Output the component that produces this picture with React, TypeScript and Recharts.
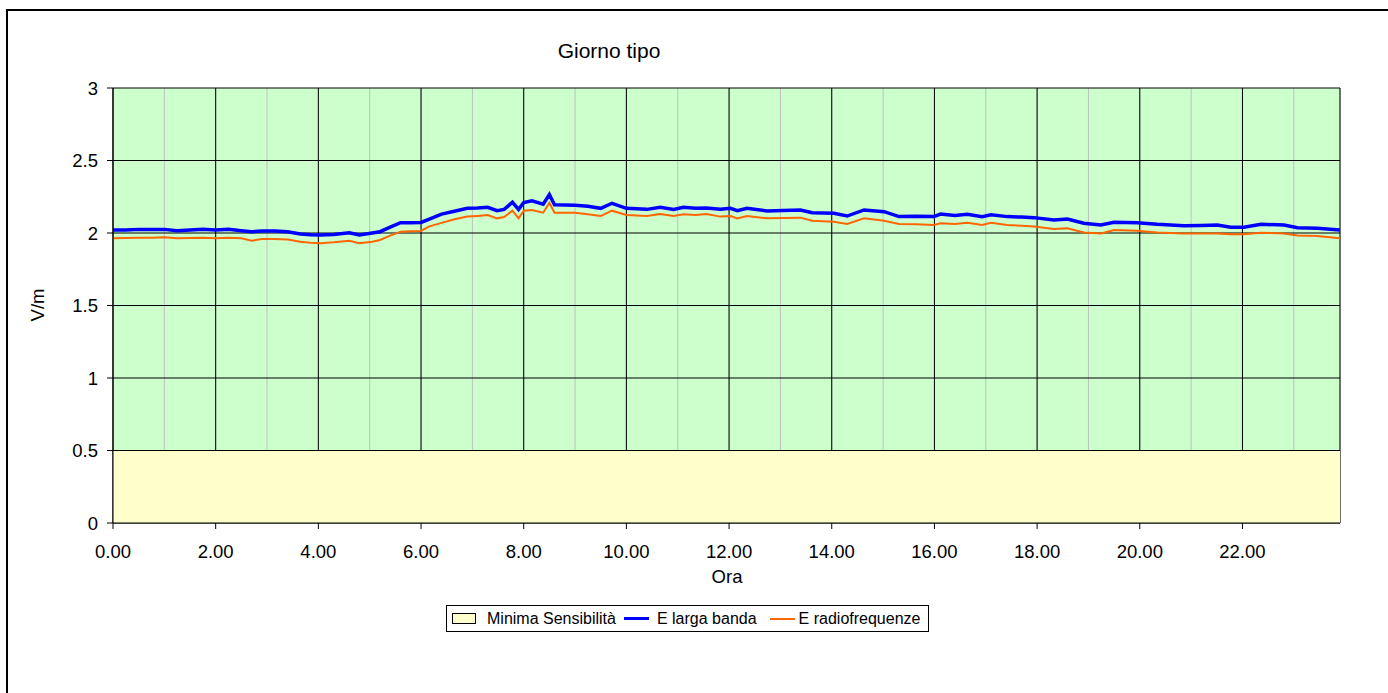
import React from 'react';
import { ComposedChart, Line, Area, XAxis, YAxis, CartesianGrid, Legend } from 'recharts';

const ore = [
  0.0, 0.25, 0.5, 0.75, 1.0, 1.25, 1.5, 1.75, 2.0, 2.25, 2.5, 2.7, 2.9, 3.15, 3.4, 3.65, 3.85, 4.05, 4.3, 4.6,
  4.8, 5.05, 5.2, 5.4, 5.6, 5.8, 6.0, 6.15, 6.4, 6.65, 6.9, 7.1, 7.3, 7.48, 7.62, 7.78, 7.9, 8.0, 8.16, 8.38,
  8.5, 8.6, 9.0, 9.25, 9.5, 9.72, 10.0, 10.4, 10.66, 10.92, 11.11, 11.35, 11.56, 11.83, 12.03, 12.16, 12.35, 12.74, 13.05, 13.39,
  13.62, 14.04, 14.3, 14.63, 15.02, 15.31, 15.65, 15.99, 16.12, 16.4, 16.64, 16.93, 17.1, 17.42, 17.7, 17.94, 18.33, 18.59, 18.91, 19.24,
  19.5, 19.95, 20.34, 20.86, 21.2, 21.51, 21.77, 22.03, 22.36, 22.81, 23.07, 23.46, 23.9,
];

const eLargaBanda = [
  2.02, 2.02, 2.025, 2.025, 2.025, 2.016, 2.02, 2.025, 2.02, 2.025, 2.016, 2.009, 2.014, 2.014, 2.009, 1.993, 1.988, 1.986, 1.99, 2.002,
  1.986, 2.0, 2.009, 2.04, 2.071, 2.071, 2.073, 2.094, 2.13, 2.15, 2.17, 2.172, 2.177, 2.154, 2.163, 2.212, 2.163, 2.21, 2.222, 2.198,
  2.265, 2.195, 2.191, 2.185, 2.17, 2.205, 2.17, 2.163, 2.177, 2.163, 2.177, 2.17, 2.172, 2.163, 2.17, 2.154, 2.17, 2.152, 2.156, 2.159,
  2.14, 2.136, 2.117, 2.159, 2.147, 2.113, 2.115, 2.113, 2.131, 2.12, 2.129, 2.113, 2.126, 2.113, 2.11, 2.106, 2.09, 2.097, 2.067, 2.055,
  2.074, 2.071, 2.06, 2.05, 2.052, 2.055, 2.039, 2.039, 2.06, 2.055, 2.037, 2.032, 2.021,
];

const eRadiofrequenze = [
  1.963, 1.965, 1.968, 1.968, 1.97, 1.963, 1.965, 1.968, 1.963, 1.968, 1.963, 1.947, 1.959, 1.959, 1.955, 1.94, 1.933, 1.929, 1.936, 1.947,
  1.929, 1.94, 1.952, 1.982, 2.009, 2.012, 2.014, 2.044, 2.07, 2.095, 2.113, 2.118, 2.124, 2.101, 2.11, 2.154, 2.101, 2.154, 2.159, 2.14,
  2.209, 2.14, 2.14, 2.13, 2.117, 2.154, 2.124, 2.117, 2.131, 2.117, 2.129, 2.125, 2.131, 2.113, 2.117, 2.101, 2.117, 2.101, 2.104, 2.106,
  2.085, 2.078, 2.062, 2.101, 2.085, 2.062, 2.06, 2.055, 2.067, 2.062, 2.071, 2.055, 2.071, 2.055, 2.05, 2.044, 2.028, 2.032, 2.004, 1.997,
  2.021, 2.016, 2.004, 1.997, 1.997, 1.997, 1.991, 1.991, 2.002, 1.997, 1.982, 1.979, 1.963,
];

const sensOre = [0, 23.9];
const sensValori = [0.5, 0.5];

const xTicks = [0, 2, 4, 6, 8, 10, 12, 14, 16, 18, 20, 22];
const xMinorTicks = [0, 1, 2, 3, 4, 5, 6, 7, 8, 9, 10, 11, 12, 13, 14, 15, 16, 17, 18, 19, 20, 21, 22, 23];
const yTicks = [0, 0.5, 1, 1.5, 2, 2.5, 3];

const data = ore.map((o, i) => ({ ora: o, larga: eLargaBanda[i], radio: eRadiofrequenze[i] }));
const sensData = sensOre.map((o, i) => ({ ora: o, sens: sensValori[i] }));

const FONT = '"Liberation Sans", Arial, sans-serif';
const DOMAIN: [number, number] = [0, 23.9];

const LegendBox = () => (
  <div
    style={{
      display: 'flex',
      alignItems: 'center',
      border: '1px solid #000',
      background: '#fff',
      height: 27,
      boxSizing: 'border-box',
      padding: '0 8px 0 5px',
      fontFamily: FONT,
      fontSize: 16,
      color: '#000',
      whiteSpace: 'nowrap',
    }}
  >
    <span style={{ display: 'inline-block', width: 22, height: 9, background: '#ffffcc', border: '1px solid #000', marginRight: 11 }} />
    <span style={{ marginRight: 8 }}>Minima Sensibilità</span>
    <span style={{ display: 'inline-block', width: 25, height: 3, background: '#0000ff', marginRight: 8 }} />
    <span style={{ marginRight: 13 }}>E larga banda</span>
    <span style={{ display: 'inline-block', width: 25, height: 2, background: '#ff6600', marginRight: 4 }} />
    <span>E radiofrequenze</span>
  </div>
);

export default function App() {
  return (
    <div style={{ position: 'fixed', left: 0, top: 0, width: 1388, height: 693, overflow: 'hidden', background: '#fff' }}>
      <div
        style={{
          position: 'absolute',
          left: 6,
          top: 9,
          width: 1500,
          height: 800,
          border: '2px solid #000',
        }}
      />
      <div
        style={{
          position: 'absolute',
          left: 609,
          top: 39.5,
          transform: 'translateX(-50%)',
          fontFamily: FONT,
          fontSize: 21,
          lineHeight: '21px',
          whiteSpace: 'nowrap',
          color: '#000',
        }}
      >
        Giorno tipo
      </div>
      <div
        style={{
          position: 'absolute',
          left: 727,
          top: 568,
          transform: 'translateX(-50%)',
          fontFamily: FONT,
          fontSize: 18.5,
          lineHeight: '18.5px',
          whiteSpace: 'nowrap',
          color: '#000',
        }}
      >
        Ora
      </div>
      <div
        style={{
          position: 'absolute',
          left: 38,
          top: 305,
          transform: 'translate(-50%, -50%) rotate(-90deg)',
          fontFamily: FONT,
          fontSize: 18.5,
          lineHeight: '18.5px',
          whiteSpace: 'nowrap',
          color: '#000',
        }}
      >
        V/m
      </div>
      <div style={{ position: 'absolute', left: 0, top: 0 }}>
        <ComposedChart
          width={1388}
          height={693}
          data={data}
          margin={{ top: 88, right: 48, bottom: 130, left: 0 }}
          style={{ fontFamily: FONT }}
        >
          <XAxis xAxisId="minor" dataKey="ora" type="number" domain={DOMAIN} ticks={xMinorTicks} allowDataOverflow hide />
          <CartesianGrid xAxisId="minor" horizontal={false} stroke="#c0c0c0" fill="#ccffcc" fillOpacity={1} />
          <CartesianGrid stroke="#000" />
          <XAxis
            dataKey="ora"
            type="number"
            domain={DOMAIN}
            ticks={xTicks}
            allowDataOverflow
            height={40}
            tickFormatter={(v: number) => v.toFixed(2)}
            tick={{ fill: '#000', fontSize: 18.5, fontFamily: FONT }}
            tickSize={6}
            tickMargin={16}
            axisLine={{ stroke: '#000' }}
            tickLine={{ stroke: '#000' }}
          />
          <XAxis
            xAxisId="top"
            orientation="top"
            dataKey="ora"
            type="number"
            domain={DOMAIN}
            allowDataOverflow
            height={0}
            tick={false}
            tickLine={false}
            axisLine={{ stroke: '#707070' }}
          />
          <YAxis
            domain={[0, 3]}
            ticks={yTicks}
            width={113}
            allowDataOverflow
            tick={{ fill: '#000', fontSize: 18.5, fontFamily: FONT }}
            tickSize={6}
            tickMargin={9}
            axisLine={{ stroke: '#000' }}
            tickLine={{ stroke: '#000' }}
          />
          <YAxis
            yAxisId="right"
            orientation="right"
            domain={[0, 3]}
            width={0}
            tick={false}
            tickLine={false}
            axisLine={{ stroke: '#808080' }}
          />
          <Area
            data={sensData}
            dataKey="sens"
            name="Minima Sensibilità"
            type="linear"
            fill="#ffffcc"
            fillOpacity={1}
            stroke="#000"
            strokeWidth={1}
            isAnimationActive={false}
            dot={false}
            activeDot={false}
          />
          <Line
            dataKey="larga"
            name="E larga banda"
            type="linear"
            stroke="#0000ff"
            strokeWidth={3.5}
            dot={false}
            activeDot={false}
            isAnimationActive={false}
          />
          <Line
            dataKey="radio"
            name="E radiofrequenze"
            type="linear"
            stroke="#ff6600"
            strokeWidth={2}
            dot={false}
            activeDot={false}
            isAnimationActive={false}
          />
          <Legend
            layout="horizontal"
            verticalAlign="middle"
            align="center"
            content={() => <LegendBox />}
            wrapperStyle={{ position: 'absolute', left: 446, top: 605, width: 'auto' }}
          />
        </ComposedChart>
      </div>
    </div>
  );
}
